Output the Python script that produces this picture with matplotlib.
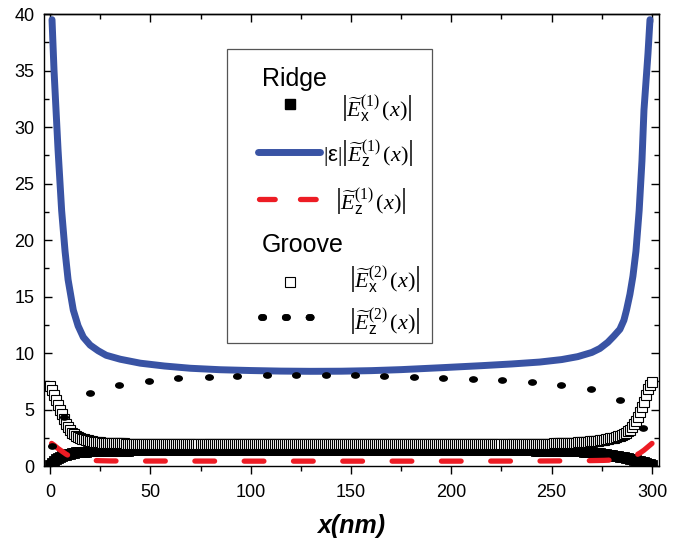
import matplotlib
matplotlib.use('Agg')
import matplotlib.pyplot as plt
from matplotlib.lines import Line2D
from matplotlib.patches import Rectangle
from matplotlib.path import Path
from matplotlib.transforms import Affine2D
from matplotlib.ticker import MultipleLocator

plt.rcParams['font.family'] = ['Liberation Sans', 'DejaVu Sans']
plt.rcParams['mathtext.fontset'] = 'custom'
plt.rcParams['mathtext.rm'] = 'Liberation Serif'
plt.rcParams['mathtext.it'] = 'Liberation Serif:italic'
plt.rcParams['mathtext.sf'] = 'Liberation Sans'
plt.rcParams['mathtext.bf'] = 'Liberation Serif:bold'
plt.rcParams['lines.scale_dashes'] = False

# ---------------- data ----------------
# Ridge |E_x^(1)| and Groove |E_x^(2)|, sampled every 1 nm (0..300)
x_sq = list(range(0, 301))

v_ridge_ex = [
    0.10, 0.28, 0.45, 0.58, 0.70, 0.80, 0.88, 0.95, 1.01, 1.06,
    1.10, 1.14, 1.17, 1.20, 1.22, 1.24, 1.26, 1.27, 1.28, 1.29,
    1.30, 1.31, 1.32, 1.32, 1.33, 1.33, 1.34, 1.34, 1.35, 1.35,
    1.35, 1.35, 1.36, 1.36, 1.36, 1.36, 1.37, 1.37, 1.37, 1.37,
    1.38, 1.38, 1.38, 1.38, 1.38, 1.38, 1.38, 1.38, 1.38, 1.38,
    1.38, 1.38, 1.38, 1.38, 1.38, 1.38, 1.38, 1.38, 1.38, 1.38,
    1.38, 1.38, 1.38, 1.38, 1.38, 1.38, 1.38, 1.38, 1.38, 1.38,
    1.38, 1.38, 1.38, 1.38, 1.38, 1.38, 1.38, 1.38, 1.38, 1.38,
    1.38, 1.38, 1.38, 1.38, 1.38, 1.38, 1.38, 1.38, 1.38, 1.38,
    1.38, 1.38, 1.38, 1.38, 1.38, 1.38, 1.38, 1.38, 1.38, 1.38,
    1.38, 1.38, 1.38, 1.38, 1.38, 1.38, 1.38, 1.38, 1.38, 1.38,
    1.38, 1.38, 1.38, 1.38, 1.38, 1.38, 1.38, 1.38, 1.38, 1.38,
    1.38, 1.38, 1.38, 1.38, 1.38, 1.38, 1.38, 1.38, 1.38, 1.38,
    1.38, 1.38, 1.38, 1.38, 1.38, 1.38, 1.38, 1.38, 1.38, 1.38,
    1.38, 1.38, 1.38, 1.38, 1.38, 1.38, 1.38, 1.38, 1.38, 1.38,
    1.38, 1.38, 1.38, 1.38, 1.38, 1.38, 1.38, 1.38, 1.38, 1.38,
    1.38, 1.38, 1.38, 1.38, 1.38, 1.38, 1.38, 1.38, 1.38, 1.38,
    1.38, 1.38, 1.38, 1.38, 1.38, 1.38, 1.38, 1.38, 1.38, 1.38,
    1.38, 1.38, 1.38, 1.38, 1.38, 1.38, 1.38, 1.38, 1.38, 1.38,
    1.38, 1.38, 1.38, 1.38, 1.38, 1.38, 1.38, 1.38, 1.38, 1.38,
    1.38, 1.38, 1.38, 1.38, 1.38, 1.38, 1.38, 1.38, 1.38, 1.38,
    1.38, 1.38, 1.38, 1.38, 1.38, 1.38, 1.38, 1.38, 1.38, 1.38,
    1.38, 1.38, 1.38, 1.38, 1.38, 1.38, 1.38, 1.38, 1.38, 1.38,
    1.38, 1.38, 1.38, 1.38, 1.38, 1.38, 1.38, 1.38, 1.38, 1.38,
    1.38, 1.38, 1.37, 1.37, 1.37, 1.37, 1.37, 1.36, 1.36, 1.36,
    1.36, 1.36, 1.36, 1.35, 1.35, 1.35, 1.35, 1.35, 1.34, 1.34,
    1.33, 1.33, 1.32, 1.31, 1.30, 1.29, 1.28, 1.26, 1.24, 1.22,
    1.20, 1.18, 1.16, 1.14, 1.12, 1.09, 1.06, 1.03, 1.00, 0.97,
    0.94, 0.91, 0.88, 0.85, 0.82, 0.79, 0.76, 0.72, 0.68, 0.64,
    0.60, 0.56, 0.52, 0.48, 0.44, 0.39, 0.34, 0.28, 0.22, 0.16,
    0.10]

v_groove_ex = [
    7.10, 6.70, 6.30, 5.85, 5.40, 5.00, 4.60, 4.15, 3.75, 3.42,
    3.15, 2.95, 2.80, 2.67, 2.56, 2.48, 2.41, 2.35, 2.30, 2.26,
    2.22, 2.19, 2.16, 2.13, 2.11, 2.09, 2.07, 2.06, 2.05, 2.04,
    2.03, 2.02, 2.02, 2.01, 2.01, 2.00, 2.00, 2.00, 1.99, 1.99,
    1.99, 1.99, 1.98, 1.98, 1.98, 1.98, 1.98, 1.97, 1.97, 1.97,
    1.97, 1.97, 1.97, 1.97, 1.96, 1.96, 1.96, 1.96, 1.96, 1.96,
    1.96, 1.96, 1.96, 1.96, 1.96, 1.95, 1.95, 1.95, 1.95, 1.95,
    1.95, 1.95, 1.95, 1.95, 1.95, 1.95, 1.95, 1.95, 1.95, 1.95,
    1.95, 1.95, 1.95, 1.95, 1.95, 1.95, 1.95, 1.95, 1.95, 1.95,
    1.95, 1.95, 1.95, 1.95, 1.95, 1.95, 1.95, 1.95, 1.95, 1.95,
    1.95, 1.95, 1.95, 1.95, 1.95, 1.95, 1.95, 1.95, 1.95, 1.95,
    1.95, 1.95, 1.95, 1.95, 1.95, 1.95, 1.95, 1.95, 1.95, 1.95,
    1.95, 1.95, 1.95, 1.95, 1.95, 1.95, 1.95, 1.95, 1.95, 1.95,
    1.95, 1.95, 1.95, 1.95, 1.95, 1.95, 1.95, 1.95, 1.95, 1.95,
    1.95, 1.95, 1.95, 1.95, 1.95, 1.95, 1.95, 1.95, 1.95, 1.95,
    1.95, 1.95, 1.95, 1.95, 1.95, 1.95, 1.95, 1.95, 1.95, 1.95,
    1.95, 1.95, 1.95, 1.95, 1.95, 1.95, 1.95, 1.95, 1.95, 1.95,
    1.95, 1.95, 1.95, 1.95, 1.95, 1.95, 1.95, 1.95, 1.95, 1.95,
    1.95, 1.95, 1.95, 1.95, 1.95, 1.95, 1.95, 1.95, 1.95, 1.95,
    1.95, 1.95, 1.95, 1.95, 1.95, 1.95, 1.95, 1.95, 1.95, 1.95,
    1.95, 1.95, 1.95, 1.95, 1.95, 1.95, 1.95, 1.95, 1.95, 1.95,
    1.95, 1.95, 1.95, 1.95, 1.95, 1.95, 1.95, 1.95, 1.95, 1.95,
    1.95, 1.95, 1.95, 1.95, 1.95, 1.95, 1.95, 1.95, 1.95, 1.95,
    1.95, 1.95, 1.95, 1.95, 1.96, 1.96, 1.96, 1.96, 1.96, 1.96,
    1.96, 1.97, 1.97, 1.97, 1.97, 1.98, 1.98, 1.98, 1.99, 1.99,
    1.99, 2.00, 2.00, 2.01, 2.01, 2.02, 2.02, 2.03, 2.04, 2.05,
    2.06, 2.07, 2.08, 2.09, 2.10, 2.11, 2.12, 2.13, 2.15, 2.17,
    2.19, 2.21, 2.23, 2.25, 2.27, 2.30, 2.33, 2.36, 2.40, 2.44,
    2.48, 2.52, 2.57, 2.62, 2.68, 2.75, 2.83, 2.93, 3.06, 3.23,
    3.45, 3.70, 4.00, 4.35, 4.75, 5.20, 5.70, 6.25, 6.80, 7.15,
    7.40]

# Ridge |eps||E_z^(1)| (blue solid)
x_blue = [1, 2, 3, 4, 5.8, 7.5, 9, 11.6, 14, 16.6, 20, 24, 28, 35, 45, 57,
          70, 85, 100, 115, 130, 145, 160, 175, 195, 215, 230, 244, 255,
          263, 270, 274, 278, 281, 284, 286, 287.3, 289, 290.5, 292, 293.6,
          295, 296, 297, 298, 299]
v_blue = [39.5, 35.0, 31.5, 28.0, 22.6, 19.0, 16.5, 13.8, 12.4, 11.4, 10.7,
          10.2, 9.8, 9.45, 9.1, 8.85, 8.65, 8.52, 8.45, 8.40, 8.38, 8.39,
          8.44, 8.53, 8.70, 8.88, 9.03, 9.20, 9.42, 9.68, 10.05, 10.4, 10.95,
          11.5, 12.1, 12.9, 13.8, 15.2, 16.8, 19.0, 22.6, 27.0, 31.5, 34.0,
          36.5, 39.5]

# Ridge |E_z^(1)| (red dashed)
x_red = [0.8, 2, 4, 6, 8, 10, 12, 14, 17, 20, 25, 30, 40, 60, 100, 150, 200,
         240, 260, 270, 276, 280, 284, 287, 290, 292, 294, 296, 298, 300]
v_red = [2.0, 1.85, 1.55, 1.3, 1.05, 0.85, 0.72, 0.63, 0.55, 0.50, 0.47,
         0.45, 0.44, 0.44, 0.43, 0.43, 0.43, 0.44, 0.46, 0.48, 0.50, 0.53,
         0.58, 0.66, 0.80, 0.95, 1.15, 1.40, 1.70, 2.0]

# Groove |E_z^(2)| (black dots)
x_dot = [0.8, 7, 20, 34.5, 49.3, 64, 79, 93.3, 108, 122.6, 137.4, 152, 166.6,
         181.4, 196, 210.7, 225.4, 240, 254.6, 269.4, 284, 295.6]
v_dot = [1.8, 4.35, 6.43, 7.17, 7.55, 7.76, 7.90, 8.00, 8.05, 8.08, 8.08,
         8.05, 8.00, 7.90, 7.80, 7.70, 7.58, 7.43, 7.17, 6.78, 5.84, 3.40]

labels = [r'$\left|\widetilde{E}_{\mathsf{x}}^{(1)}\,(x)\right|$',
          r'$|\mathsf{ε}|\left|\widetilde{E}_{\mathsf{z}}^{(1)}\,(x)\right|$',
          r'$\left|\widetilde{E}_{\mathsf{z}}^{(1)}\,(x)\right|$',
          r'$\left|\widetilde{E}_{\mathsf{x}}^{(2)}\,(x)\right|$',
          r'$\left|\widetilde{E}_{\mathsf{z}}^{(2)}\,(x)\right|$']
group_titles = ['Ridge', 'Groove']
x_ticks = [0, 50, 100, 150, 200, 250, 300]
y_ticks = [0, 5, 10, 15, 20, 25, 30, 35, 40]

# ---------------- style ----------------
BLUE = '#3953a4'
RED = '#ed1c24'
ell = Path.unit_circle().transformed(Affine2D().scale(1.0, 0.74))

fig = plt.figure(figsize=(6.82, 5.41), dpi=100)
ax = fig.add_axes([0.0645, 0.1386, 0.9018, 0.8355])

ax.plot(x_sq, v_ridge_ex, ls='none', marker='s', ms=6.5, mfc='k', mec='k',
        mew=0.6, zorder=2)
ax.plot(x_blue, v_blue, color=BLUE, lw=5.0, solid_capstyle='round',
        solid_joinstyle='round', zorder=3)
ax.plot(x_red, v_red, color=RED, lw=3.8, ls=(0, (14.2, 21.3)),
        dash_capstyle='round', zorder=4)
ax.plot(x_sq, v_groove_ex, ls='none', marker='s', ms=6.8, mfc='white',
        mec='k', mew=0.8, zorder=5)
ax.plot(x_dot, v_dot, ls='none', marker=ell, ms=6.5, mfc='k', mec='k',
        mew=0, zorder=6)

ax.set_xlim(-3, 303.5)
ax.set_ylim(0, 40)
ax.set_xticks(x_ticks)
ax.set_yticks(y_ticks)
ax.xaxis.set_minor_locator(MultipleLocator(25))
ax.yaxis.set_minor_locator(MultipleLocator(2.5))
for s in ax.spines.values():
    s.set_linewidth(1.0)
ax.tick_params(axis='x', which='both', direction='out', labelsize=13,
               pad=7.5, width=1.0)
ax.tick_params(axis='y', which='both', direction='in', right=True,
               labelsize=13, pad=7.0, width=1.0)
ax.tick_params(which='major', length=5.8)
ax.tick_params(which='minor', length=3.6)

secx = ax.secondary_xaxis('top')
secx.set_xticks(x_ticks)
secx.xaxis.set_minor_locator(MultipleLocator(25))
secx.tick_params(which='both', direction='in', labeltop=False, width=1.0)
secx.tick_params(which='major', length=5.8)
secx.tick_params(which='minor', length=3.6)
secx.spines['top'].set_linewidth(1.0)

ax.set_xlabel('x(nm)', fontsize=18, fontweight='bold', fontstyle='italic',
              labelpad=9)

# ---------------- legend ----------------
ax.add_patch(Rectangle((0.2976, 0.272), 0.3333, 0.6506, transform=ax.transAxes,
                       facecolor='white', edgecolor='#555555', lw=0.9,
                       zorder=7))

handles = [
    Line2D([], [], ls='none', marker='s', ms=6.5, mfc='k', mec='k'),
    Line2D([], [], color=BLUE, lw=5.0, solid_capstyle='round'),
    Line2D([], [], color=RED, lw=3.8, ls=(0, (11.3, 18.2)),
           dash_capstyle='round'),
    Line2D([], [], ls='none', marker='s', ms=6.5, mfc='white', mec='k',
           mew=0.8),
    Line2D([], [], color='k', lw=4.8, ls=(0, (1.6, 15.5)),
           dash_capstyle='round'),
]
handle_pos = [(0.4005, 0.8015), (0.3984, 0.6954), (0.3992, 0.5907),
              (0.4005, 0.4077), (0.4027, 0.3303)]
label_pos = [(0.5407, 0.7905), (0.5271, 0.6918), (0.5314, 0.5847),
             (0.5532, 0.4115), (0.5532, 0.3192)]
FS_LEG = 2.0
hl = 62 / (FS_LEG * 100 / 72)
for h, (hx, hy) in zip(handles, handle_pos):
    lg = ax.legend([h], [''], loc='center', bbox_to_anchor=(hx, hy),
                   bbox_transform=ax.transAxes, frameon=False, fontsize=FS_LEG,
                   handlelength=hl, handletextpad=0, borderpad=0,
                   borderaxespad=0, numpoints=1, markerscale=1)
    lg.set_zorder(8)
    ax.add_artist(lg)

for lab, (lx, ly) in zip(labels, label_pos):
    ax.text(lx, ly, lab, transform=ax.transAxes, ha='center', va='center',
            fontsize=16, zorder=9)

ax.text(0.3540, 0.8414, group_titles[0], transform=ax.transAxes, ha='left',
        va='baseline', fontsize=18, zorder=9)
ax.text(0.3540, 0.4728, group_titles[1], transform=ax.transAxes, ha='left',
        va='baseline', fontsize=18, zorder=9)

fig.savefig('out.png', dpi=100)
